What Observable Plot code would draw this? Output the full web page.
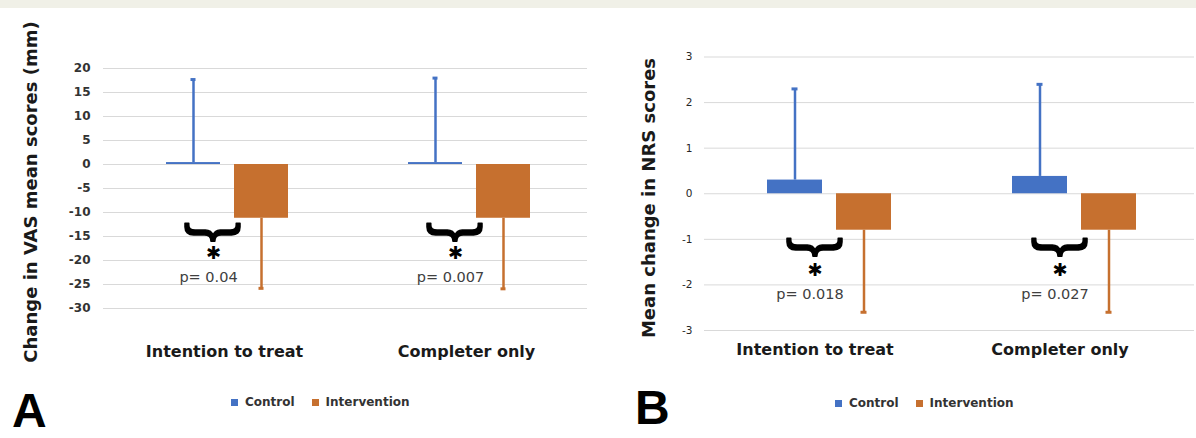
<!DOCTYPE html>
<html>
<head>
<meta charset="utf-8">
<script src="https://cdn.jsdelivr.net/npm/d3@7"></script>
<script src="https://cdn.jsdelivr.net/npm/@observablehq/plot@0.6"></script>
<style>
  html, body { margin: 0; padding: 0; background: #ffffff; }
  body { width: 1196px; height: 438px; position: relative; overflow: hidden; font-family: "DejaVu Sans", sans-serif; }
  #band { position: absolute; left: 0; top: 0; width: 1196px; height: 8px; background: #f0f0e7; }
  .panel { position: absolute; top: 0; }
  .ytitle { position: absolute; transform: translate(-50%, -50%) rotate(-90deg); white-space: nowrap;
            font: bold 18px "DejaVu Sans", sans-serif; color: #1a1a1a; }
  .letter { position: absolute; font: bold 48px "Liberation Sans", Arial, sans-serif; line-height: 1; color: #000; }
  .legend { position: absolute; display: flex; align-items: center; font: bold 12px "DejaVu Sans", sans-serif;
            color: #333; line-height: 14px; white-space: nowrap; }
  .legend .sw { width: 7px; height: 7px; display: inline-block; margin-right: 7px; }
  .legend .item { display: flex; align-items: center; margin-right: 17px; }
</style>
</head>
<body>
<div id="band"></div>
<div id="panelA" class="panel" style="left:0px"></div>
<div id="panelB" class="panel" style="left:600px"></div>
<div class="ytitle" style="left:29.5px; top:191.5px">Change in VAS mean scores (mm)</div>
<div class="ytitle" style="left:648px; top:197.5px">Mean change in NRS scores</div>
<div class="letter" style="left:12px; top:387px">A</div>
<div class="letter" style="left:635px; top:384px">B</div>
<div class="legend" id="legendA" style="left:231px; top:395px"></div>
<div class="legend" id="legendB" style="left:835px; top:396px"></div>
<script>
// ---------- data ----------
const categories = ["Intention to treat", "Completer only"];
const groups = ["Control", "Intervention"];

// Panel A: change in VAS mean scores (mm)
const vasControlMean = [0.4, 0.4];
const vasControlSD = [17.3, 17.6];
const vasInterventionMean = [-11.2, -11.2];
const vasInterventionSD = [14.6, 14.7];
const vasPValues = ["p= 0.04", "p= 0.007"];
const vasTicks = [20, 15, 10, 5, 0, -5, -10, -15, -20, -25, -30];

// Panel B: mean change in NRS scores
const nrsControlMean = [0.3, 0.38];
const nrsControlSD = [2.0, 2.02];
const nrsInterventionMean = [-0.8, -0.8];
const nrsInterventionSD = [1.8, 1.8];
const nrsPValues = ["p= 0.018", "p= 0.027"];
const nrsTicks = [3, 2, 1, 0, -1, -2, -3];

// ---------- style ----------
const groupColors = ["#4472C4", "#C6702F"];

function buildRows(cMean, cSD, iMean, iSD) {
  const rows = [];
  categories.forEach((cat, i) => {
    rows.push({cat, group: groups[0], mean: cMean[i], end: cMean[i] + cSD[i]});
    rows.push({cat, group: groups[1], mean: iMean[i], end: iMean[i] - iSD[i]});
  });
  return rows;
}
function buildAnn(iMean, pv) {
  return categories.map((cat, i) => ({cat, y: iMean[i], p: pv[i]}));
}

function panel(rows, ann, ticks, cfg) {
  return Plot.plot({
    width: cfg.width, height: 438,
    marginLeft: cfg.marginLeft, marginRight: cfg.marginRight,
    marginTop: cfg.marginTop, marginBottom: cfg.marginBottom,
    style: {background: "transparent", fontFamily: "DejaVu Sans", overflow: "visible"},
    fx: {domain: categories, padding: 0, label: null},
    x: {domain: groups, paddingInner: 0.21, paddingOuter: 0.87, align: 0.52, axis: null},
    y: {domain: cfg.domain, label: null},
    color: {domain: groups, range: groupColors},
    marks: [
      Plot.gridY(ticks, {stroke: "#d9d9d9", strokeOpacity: 1, strokeWidth: 1}),
      Plot.axisY(ticks, {tickSize: 0, tickPadding: cfg.tickPadding, fontSize: cfg.tickFontSize,
                         fontWeight: cfg.tickWeight, fill: cfg.tickFill, label: null, tickFormat: d => String(d)}),
      Plot.axisFx({anchor: "bottom", tickSize: 0, tickPadding: cfg.fxPadding, fontSize: 16,
                   fontWeight: "bold", fill: "#1a1a1a", label: null, dx: cfg.fxDx}),
      Plot.barY(rows, {fx: "cat", x: "group", y: "mean", fill: "group"}),
      Plot.ruleX(rows, {fx: "cat", x: "group", y1: "mean", y2: "end", stroke: "group", strokeWidth: 2.5}),
      Plot.tickY(rows, {fx: "cat", x: "group", y: "end", stroke: "group", strokeWidth: 3,
                        insetLeft: 24.5, insetRight: 24.5}),
      // curly brace
      Plot.text(ann, {fx: "cat", x: () => groups[0], y: "y", text: () => "}", rotate: 90,
                      dx: 23, dy: cfg.braceDy, fontSize: 60, fontWeight: "normal",
                      fontFamily: "Liberation Sans", fill: "#000", stroke: "#000", strokeWidth: 1.6,
                      lineAnchor: "middle"}),
      // asterisk
      Plot.text(ann, {fx: "cat", x: () => groups[0], y: "y", text: () => "\u2731",
                      dx: 20, dy: cfg.starDy, fontSize: 18, fontWeight: "bold",
                      fontFamily: "DejaVu Sans", fill: "#000", lineAnchor: "middle"}),
      // p value
      Plot.text(ann, {fx: "cat", x: () => groups[0], y: "y", text: "p",
                      dx: 15, dy: cfg.pDy, fontSize: 14.5, fill: "#404040",
                      fontFamily: "DejaVu Sans", lineAnchor: "middle"})
    ]
  });
}

const cfgA = {width: 600, marginLeft: 103, marginRight: 13, marginTop: 68, marginBottom: 130,
  domain: [-30, 20], tickPadding: 13, tickFontSize: 12, tickWeight: "bold", tickFill: "#333",
  fxPadding: 37, fxDx: 0, braceDy: 14, starDy: 35, pDy: 59};
const cfgB = {width: 596, marginLeft: 103, marginRight: 2, marginTop: 56.5, marginBottom: 108,
  domain: [-3, 3], tickPadding: 12, tickFontSize: 10.5, tickWeight: "normal", tickFill: "#262626",
  fxPadding: 13, fxDx: -12, braceDy: 17, starDy: 40, pDy: 64};

document.getElementById("panelA").append(
  panel(buildRows(vasControlMean, vasControlSD, vasInterventionMean, vasInterventionSD),
        buildAnn(vasInterventionMean, vasPValues), vasTicks, cfgA));
document.getElementById("panelB").append(
  panel(buildRows(nrsControlMean, nrsControlSD, nrsInterventionMean, nrsInterventionSD),
        buildAnn(nrsInterventionMean, nrsPValues), nrsTicks, cfgB));

for (const id of ["legendA", "legendB"]) {
  const el = document.getElementById(id);
  groups.forEach((g, i) => {
    const item = document.createElement("span");
    item.className = "item";
    const sw = document.createElement("span");
    sw.className = "sw";
    sw.style.background = groupColors[i];
    item.append(sw, document.createTextNode(g));
    el.append(item);
  });
}
</script>
</body>
</html>
